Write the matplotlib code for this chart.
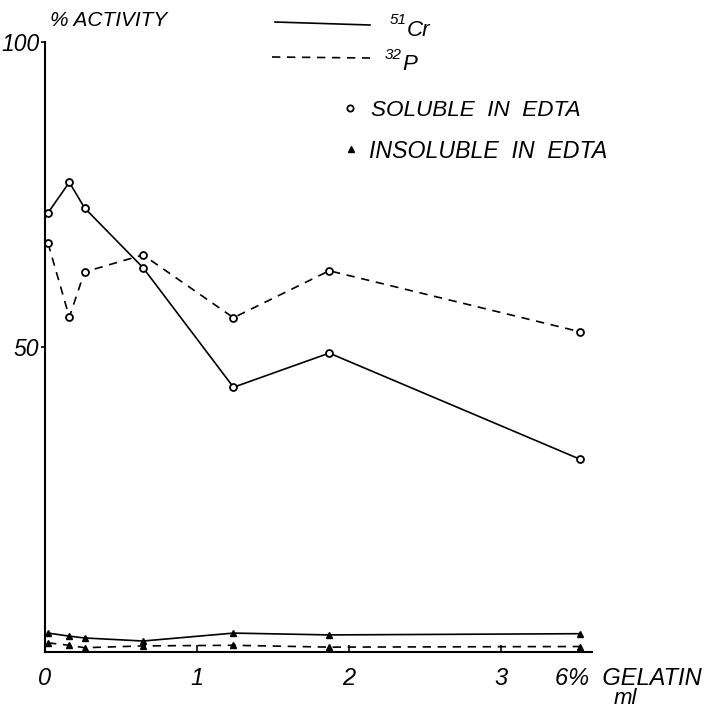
import matplotlib
matplotlib.use("Agg")
import matplotlib.pyplot as plt

plt.rcParams['font.family'] = ['Liberation Sans', 'DejaVu Sans']
plt.rcParams['font.style'] = 'italic'

# Data (ml of 6% gelatin vs % activity)
x_ml = [0.02, 0.16, 0.26, 0.645, 1.24, 1.87, 3.52]
cr_soluble = [72.0, 77.0, 72.8, 63.0, 43.4, 49.0, 31.6]
p_soluble = [67.0, 54.9, 62.3, 65.1, 54.8, 62.5, 52.5]
cr_insoluble = [3.1, 2.6, 2.3, 1.8, 3.1, 2.8, 3.0]
p_insoluble = [1.5, 1.1, 0.7, 1.0, 1.1, 0.8, 0.9]
x_ticks = [0, 1, 2, 3]
y_ticks = [50, 100]

fig = plt.figure(figsize=(7.10, 7.09), dpi=100)
ax = fig.add_axes([45/710, 57/709, 3.6*152/710, 610/709])
ax.set_xlim(0, 3.6)
ax.set_ylim(0, 100)

lw = 1.2
dash = (0, (5, 4))
ax.plot(x_ml, cr_soluble, color='black', lw=lw, marker='o', ms=5,
        mfc='white', mec='black', mew=1.3, clip_on=False, zorder=3)
ax.plot(x_ml, p_soluble, color='black', lw=lw, ls=dash, marker='o', ms=5,
        mfc='white', mec='black', mew=1.3, clip_on=False, zorder=3)
ax.plot(x_ml, cr_insoluble, color='black', lw=lw, marker='^', ms=4.5,
        mfc='black', mec='black', mew=1.0, clip_on=False, zorder=3)
ax.plot(x_ml, p_insoluble, color='black', lw=lw, ls=dash, marker='^', ms=4.5,
        mfc='black', mec='black', mew=1.0, clip_on=False, zorder=3)

for s in ['top', 'right']:
    ax.spines[s].set_visible(False)
for s in ['left', 'bottom']:
    ax.spines[s].set_linewidth(1.5)

ax.set_xticks(x_ticks)
ax.set_xticklabels([str(t) for t in x_ticks])
ax.set_yticks(y_ticks)
ax.set_yticklabels([str(t) for t in y_ticks])
ax.tick_params(axis='x', direction='in', length=5, width=1.2, labelsize=17, pad=11)
ax.tick_params(axis='y', direction='out', length=3, width=1.2, labelsize=16.5, pad=1)

# axis titles
fig.text(50/710, 1 - 21/709, '% ACTIVITY', fontsize=15, va='center', ha='left')
fig.text(555/710, 1 - 685/709, '6%  GELATIN', fontsize=17, ha='left', va='baseline')
fig.text(614/710, 1 - 704/709, 'ml', fontsize=16, ha='left', va='baseline')

# legend
fig.add_artist(plt.Line2D([275/710, 370/710], [1 - 22/709, 1 - 25/709],
                          color='black', lw=1.2))
fig.add_artist(plt.Line2D([272/710, 370/710], [1 - 57/709, 1 - 58/709],
                          color='black', lw=1.2, ls=dash))
fig.text(390/710, 1 - 20/709, '51', fontsize=11, ha='left', va='center')
fig.text(407/710, 1 - 30/709, 'Cr', fontsize=16, ha='left', va='center')
fig.text(385/710, 1 - 55/709, '32', fontsize=11, ha='left', va='center')
fig.text(402/710, 1 - 64/709, 'P', fontsize=16, ha='left', va='center')

fig.add_artist(plt.Line2D([350/710], [1 - 108/709], marker='o', ms=4.5,
                          mfc='white', mec='black', mew=1.3, ls='none'))
fig.text(371/710, 1 - 111/709, 'SOLUBLE  IN  EDTA', fontsize=16.2, ha='left', va='center')
fig.add_artist(plt.Line2D([351/710], [1 - 149/709], marker='^', ms=4,
                          mfc='black', mec='black', mew=1.0, ls='none'))
fig.text(369/710, 1 - 151/709, 'INSOLUBLE  IN  EDTA', fontsize=16.7, ha='left', va='center')

fig.savefig('out.png', dpi=100)
